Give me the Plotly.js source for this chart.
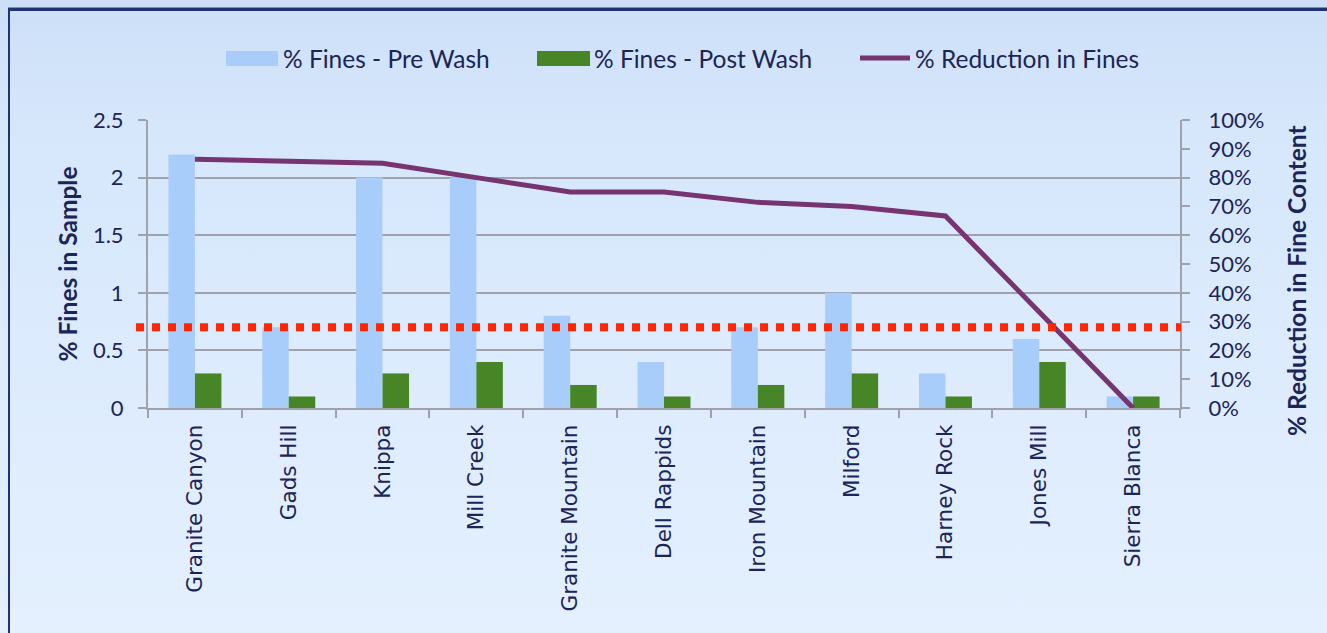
<!DOCTYPE html>
<html>
<head>
<meta charset="utf-8">
<script src="https://cdn.plot.ly/plotly-3.0.1.min.js"></script>
<style>
  html, body { margin: 0; padding: 0; }
  body { width: 1327px; height: 633px; overflow: hidden;
         background: linear-gradient(to bottom, #cddff7 0%, #d6e7fc 20%, #e4f0fe 100%); position: relative; }
  #frame { position: absolute; left: 8px; top: 8px; width: 1400px; height: 700px;
           border-top: 3px solid #1f3472; border-left: 2px solid #1f3472; box-sizing: border-box;
           box-shadow: 0 -1px 0 #6f8fd0; }
  #chart { position: absolute; left: 0; top: 0; width: 1327px; height: 633px; }
</style>
</head>
<body>
<div id="frame"></div>
<div id="chart"></div>
<script>
// ---- data ----
const sites = ["Granite Canyon", "Gads Hill", "Knippa", "Mill Creek", "Granite Mountain",
               "Dell Rappids", "Iron Mountain", "Milford", "Harney Rock", "Jones Mill", "Sierra Blanca"];
const preWash  = [2.2, 0.7, 2.0, 2.0, 0.8, 0.4, 0.7, 1.0, 0.3, 0.6, 0.1];
const postWash = [0.3, 0.1, 0.3, 0.4, 0.2, 0.1, 0.2, 0.3, 0.1, 0.4, 0.1];
const reduction = [0.864, 0.857, 0.85, 0.80, 0.75, 0.75, 0.714, 0.70, 0.667, 0.333, 0.0];
const threshold = [0.7];
const seriesNames = ["% Fines - Pre Wash", "% Fines - Post Wash", "% Reduction in Fines"];
const leftTitle = "% Fines in Sample";
const rightTitle = "% Reduction in Fine Content";

// ---- styling ----
const W = 1327, H = 633;
const M = { l: 148, r: 147, t: 120, b: 225 };
const PW = W - M.l - M.r, PH = H - M.t - M.b;
const px = x => (x - M.l) / PW;           // pixel -> paper x
const py = y => (H - M.b - y) / PH;       // pixel -> paper y
const navy = "#1c2557";
const grid = "#a0a1ab";
const cPre = "#a9cdfa", cPost = "#478527", cLine = "#763470", cRed = "#ff2600";
const numFont = { family: "Lato, Carlito, sans-serif", size: 22, color: navy };
const catFont = { family: "DejaVu Sans, Verdana, sans-serif", size: 21.5, color: navy };
const titleFont = { family: "Lato, Carlito, sans-serif", size: 24.5, color: navy };

const traces = [
  { type: "bar", name: seriesNames[0], x: sites, y: preWash, marker: { color: cPre },
    showlegend: false, hoverinfo: "skip" },
  { type: "bar", name: seriesNames[1], x: sites, y: postWash, marker: { color: cPost },
    showlegend: false, hoverinfo: "skip" },
  { type: "scatter", mode: "lines", name: seriesNames[2], x: sites, y: reduction, yaxis: "y2",
    line: { color: cLine, width: 5 }, showlegend: false, hoverinfo: "skip" }
];

const shapes = [
  // threshold dotted line
  { type: "line", xref: "paper", yref: "y", x0: px(136), x1: px(1181), y0: threshold[0], y1: threshold[0],
    line: { color: cRed, width: 8, dash: "8px,8px" }, layer: "above" },
  // legend swatches
  { type: "rect", xref: "paper", yref: "paper", x0: px(226), x1: px(278), y0: py(66), y1: py(51),
    fillcolor: cPre, line: { width: 0 } },
  { type: "rect", xref: "paper", yref: "paper", x0: px(537), x1: px(590), y0: py(66), y1: py(51),
    fillcolor: cPost, line: { width: 0 } },
  { type: "line", xref: "paper", yref: "paper", x0: px(860), x1: px(910), y0: py(58), y1: py(58),
    line: { color: cLine, width: 5 } }
];

const legendFont = { family: "Lato, Carlito, sans-serif", size: 24.5, color: navy };
const annotations = [
  { xref: "paper", yref: "paper", x: px(281), y: py(59), text: seriesNames[0], showarrow: false,
    xanchor: "left", yanchor: "middle", font: legendFont },
  { xref: "paper", yref: "paper", x: px(592), y: py(59), text: seriesNames[1], showarrow: false,
    xanchor: "left", yanchor: "middle", font: legendFont },
  { xref: "paper", yref: "paper", x: px(913), y: py(59), text: seriesNames[2], showarrow: false,
    xanchor: "left", yanchor: "middle", font: legendFont },
  // right axis title
  { xref: "paper", yref: "paper", x: px(1296), y: py(281), text: "<b>" + rightTitle + "</b>",
    textangle: -90, showarrow: false, xanchor: "center", yanchor: "middle", font: titleFont }
];

const layout = {
  width: W, height: H,
  margin: M,
  paper_bgcolor: "rgba(0,0,0,0)",
  plot_bgcolor: "rgba(0,0,0,0)",
  barmode: "group",
  bargap: 0.435,
  bargroupgap: 0,
  showlegend: false,
  xaxis: {
    type: "category",
    tickangle: -90,
    tickfont: catFont,
    ticks: "outside", ticklen: 8, tickwidth: 2, tickcolor: grid,
    tickson: "boundaries",
    ticklabelstandoff: 6,
    showline: true, linecolor: grid, linewidth: 2,
    showgrid: false, zeroline: false
  },
  yaxis: {
    range: [0, 2.5], dtick: 0.5, tick0: 0,
    tickfont: numFont,
    ticks: "outside", ticklen: 8, tickwidth: 2, tickcolor: grid,
    ticklabelstandoff: 10,
    showline: true, linecolor: grid, linewidth: 2,
    showgrid: true, gridcolor: grid, gridwidth: 2,
    zeroline: false,
    title: { text: "<b>" + leftTitle + "</b>", font: titleFont, standoff: 8 }
  },
  yaxis2: {
    overlaying: "y", side: "right",
    range: [0, 1], dtick: 0.1, tick0: 0, tickformat: ".0%",
    tickfont: numFont,
    ticks: "outside", ticklen: 8, tickwidth: 2, tickcolor: grid,
    ticklabelstandoff: 14,
    showline: true, linecolor: grid, linewidth: 2,
    showgrid: false, zeroline: false
  },
  shapes: shapes,
  annotations: annotations
};

Plotly.newPlot("chart", traces, layout, { displayModeBar: false, staticPlot: true });
</script>
</body>
</html>
